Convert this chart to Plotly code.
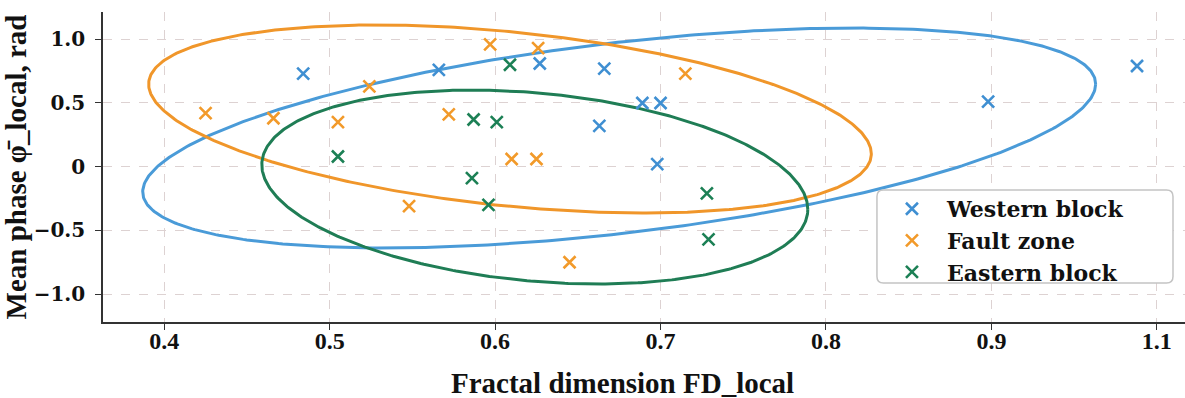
import numpy as np
import plotly.graph_objects as go

# ---- data ----
groups = ["Western block", "Fault zone", "Eastern block"]
colors = ["#3f8fd2", "#f29a2a", "#1c8055"]
ellipse_colors = ["#4a9bd8", "#f0962a", "#1f7d55"]

western_fd = [0.484, 0.566, 0.627, 0.666, 0.663, 0.689, 0.700, 0.698, 0.898, 0.988]
western_phase = [0.73, 0.76, 0.81, 0.77, 0.32, 0.50, 0.50, 0.02, 0.51, 0.79]

fault_fd = [0.425, 0.466, 0.505, 0.524, 0.572, 0.597, 0.626, 0.715, 0.610, 0.625, 0.548, 0.645]
fault_phase = [0.42, 0.38, 0.35, 0.63, 0.41, 0.96, 0.93, 0.73, 0.06, 0.06, -0.31, -0.75]

eastern_fd = [0.505, 0.587, 0.601, 0.609, 0.586, 0.596, 0.728, 0.729]
eastern_phase = [0.08, 0.37, 0.35, 0.80, -0.09, -0.30, -0.21, -0.57]

# ellipse parameters: centre, spreads and correlation
ell_cx = [0.675, 0.609, 0.624]
ell_cy = [0.225, 0.374, -0.16]
ell_sx = [0.288, 0.2184, 0.165]
ell_sy = [0.863, 0.738, 0.761]
ell_rho = [0.49, -0.37, -0.23]

x_tick_vals = [0.4, 0.5, 0.6, 0.7, 0.8, 0.9, 1.0]
x_tick_text = ["0.4", "0.5", "0.6", "0.7", "0.8", "0.9", "1.1"]
y_tick_vals = [-1.0, -0.5, 0.0, 0.5, 1.0]
y_tick_text = ["\u22121.0", "\u22120.5", "0", "0.5", "1.0"]

x_title = "Fractal dimension FD_local"
y_title = "Mean phase \u03c6\u0304_local, rad"

xs = [western_fd, fault_fd, eastern_fd]
ys = [western_phase, fault_phase, eastern_phase]

fig = go.Figure()

t = np.linspace(0, 2 * np.pi, 500)
for i in range(3):
    sx, sy, r = ell_sx[i], ell_sy[i], ell_rho[i]
    cov = np.array([[sx * sx, r * sx * sy], [r * sx * sy, sy * sy]])
    L = np.linalg.cholesky(cov)
    pts = L @ np.vstack([np.cos(t), np.sin(t)])
    fig.add_trace(go.Scatter(
        x=ell_cx[i] + pts[0], y=ell_cy[i] + pts[1], mode="lines",
        line=dict(color=ellipse_colors[i], width=3), showlegend=False,
        hoverinfo="skip"))

for i in range(3):
    fig.add_trace(go.Scatter(
        x=xs[i], y=ys[i], mode="markers", name=groups[i],
        marker=dict(symbol="x-thin", size=12,
                    line=dict(color=colors[i], width=2.6), color=colors[i])))

tick_font_x = dict(family="Liberation Serif", size=24, color="#111", weight=700)
tick_font_y = dict(family="DejaVu Serif", size=20, color="#111", weight=700)

# rounded legend frame (drawn as a layout shape, in paper coordinates)
lx0, lx1, ly0, ly1, rr = 0.7153, 0.9889, 0.1258, 0.4258, 0.006
ry = rr * 1082 / 310
frame_path = (
    f"M {lx0+rr},{ly1} L {lx1-rr},{ly1} Q {lx1},{ly1} {lx1},{ly1-ry} "
    f"L {lx1},{ly0+ry} Q {lx1},{ly0} {lx1-rr},{ly0} L {lx0+rr},{ly0} "
    f"Q {lx0},{ly0} {lx0},{ly0+ry} L {lx0},{ly1-ry} Q {lx0},{ly1} {lx0+rr},{ly1} Z"
)

fig.update_layout(
    width=1185, height=398,
    margin=dict(l=103, r=0, t=12, b=76, autoexpand=False),
    paper_bgcolor="white", plot_bgcolor="white",
    showlegend=True,
    shapes=[dict(type="path", xref="paper", yref="paper", path=frame_path,
                 line=dict(color="#c4c4c4", width=1.5), fillcolor="white",
                 layer="above")],
    annotations=[dict(text=x_title, xref="paper", yref="paper",
                      x=0.48, y=-0.197, xanchor="center", yanchor="middle",
                      showarrow=False,
                      font=dict(family="Liberation Serif", size=29, color="#111", weight=700))],
    legend=dict(
        x=0.7153, y=0.4325, xanchor="left", yanchor="top",
        bgcolor="rgba(0,0,0,0)", borderwidth=0,
        font=dict(family="DejaVu Serif", size=22, color="#111", weight=700),
        itemwidth=60, tracegroupgap=0,
    ),
    xaxis=dict(
        range=[0.363, 1.017], tickmode="array",
        tickvals=x_tick_vals, ticktext=x_tick_text, automargin=False,
        tickfont=tick_font_x, ticks="outside", ticklen=6, tickwidth=1.2,
        tickcolor="#333", ticklabelstandoff=-10,
        showline=True, linecolor="#333", linewidth=1.6, mirror=False,
        showgrid=True, gridcolor="#ddd2d2", griddash="dash", gridwidth=1,
        zeroline=False,
    ),
    yaxis=dict(
        range=[-1.219, 1.214], tickmode="array",
        tickvals=y_tick_vals, ticktext=y_tick_text, automargin=False,
        tickfont=tick_font_y, ticks="outside", ticklen=6, tickwidth=1.2,
        tickcolor="#333", ticklabelstandoff=6,
        showline=True, linecolor="#333", linewidth=1.6, mirror=False,
        showgrid=True, gridcolor="#ddd2d2", griddash="dash", gridwidth=1,
        zeroline=False,
        title=dict(text=y_title, standoff=4,
                   font=dict(family="Liberation Serif", size=29, color="#111", weight=700)),
    ),
)

fig.write_html("out.html", config={"displayModeBar": False},
               post_script="document.body.style.margin='0';document.body.style.overflow='hidden';")
